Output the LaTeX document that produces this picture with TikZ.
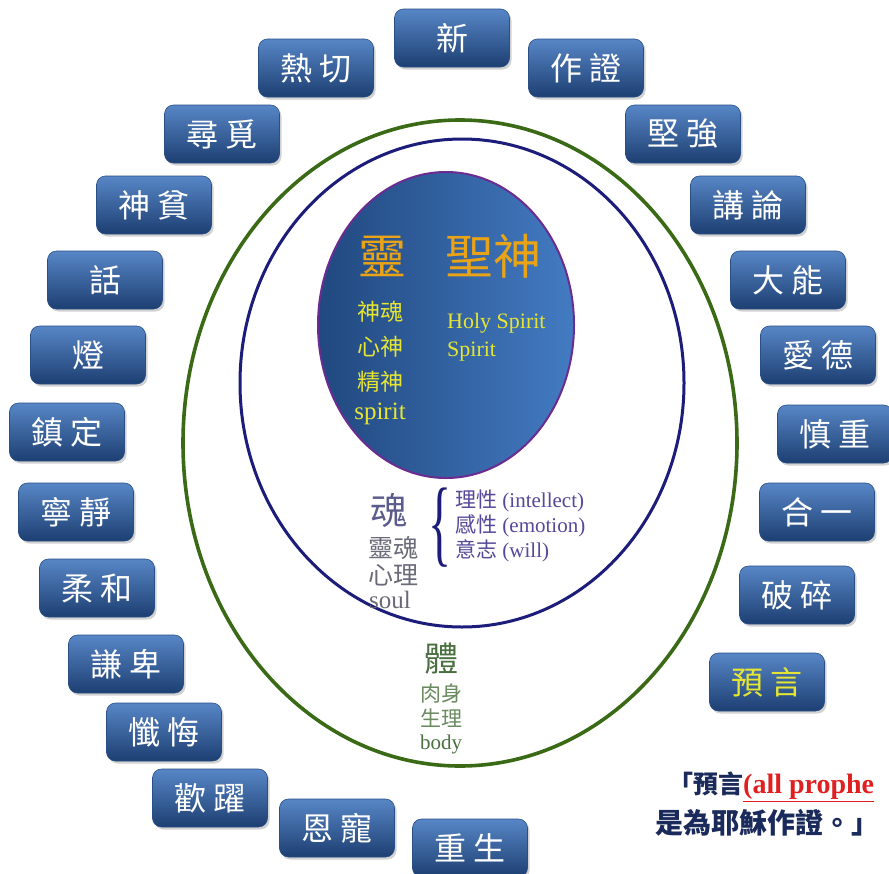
\documentclass[tikz,border=0pt]{standalone}
\usepackage{fontspec}
\setmainfont{Liberation Serif}
\newfontfamily\cjk{Noto Sans CJK TC}
\usepackage{tikz}
\usetikzlibrary{shadows}
\definecolor{BoxTop}{HTML}{5786C6}
\definecolor{BoxBot}{HTML}{1D3F72}
\definecolor{BoxEdge}{HTML}{2A4F86}
\definecolor{BodyRing}{HTML}{3A6A16}
\definecolor{SoulRing}{HTML}{1C1C7A}
\definecolor{SpiritEdge}{HTML}{6B2C91}
\definecolor{SpiritL}{HTML}{21487F}
\definecolor{SpiritR}{HTML}{437BC2}
\definecolor{Gold}{HTML}{E8A317}
\definecolor{Lemon}{HTML}{E6E632}
\definecolor{SoulInk}{HTML}{5C5C8C}
\definecolor{SoulGrey}{HTML}{6A6A78}
\definecolor{MindInk}{HTML}{55489A}
\definecolor{BodyInk}{HTML}{4A7040}
\definecolor{BodyGrey}{HTML}{6A8A60}
\definecolor{Navy}{HTML}{1A2A5A}
\definecolor{Alert}{HTML}{E02020}

\begin{document}
\begin{tikzpicture}[
          x=1pt, y=-1pt,
          word/.style={rounded corners=9pt, minimum width=115pt, minimum height=58pt, inner sep=0pt,
            top color=BoxTop, bottom color=BoxBot, draw=BoxEdge, line width=0.6pt, text=white,
            font=\cjk\fontsize{32}{34}\selectfont,
            drop shadow={shadow xshift=2pt, shadow yshift=-2.5pt, opacity=0.35}},
          gift/.style={word, text=Lemon},
          lbl/.style={inner sep=0pt, align=center},
          ring/.style={line width=3.6pt}
        ]
          \useasboundingbox (0,0) rectangle (889,873);
          \fill[white] (0,0) rectangle (889,873);

          % three rings
          \draw[ring, BodyRing] (460,443) ellipse (277 and 323);
          \draw[ring, SoulRing, line width=3pt] (462,383) ellipse (222 and 244);
          \draw[left color=SpiritL, right color=SpiritR, draw=SpiritEdge, line width=2pt] (446,325) ellipse (128 and 153);

          % spirit
          \node[lbl, text=Gold, font=\cjk\fontsize{48}{50}\selectfont] (s1) at (382,256) {靈};
          \node[lbl, text=Gold, font=\cjk\fontsize{48}{50}\selectfont] (s2) at (493,256) {聖神};
          \node[lbl, text=Lemon, font=\cjk\fontsize{23}{25}\selectfont] (s3) at (380,312) {神魂};
          \node[lbl, text=Lemon, font=\cjk\fontsize{23}{25}\selectfont] (s4) at (380,347) {心神};
          \node[lbl, text=Lemon, font=\cjk\fontsize{23}{25}\selectfont] (s5) at (380,382) {精神};
          \node[lbl, text=Lemon, font=\fontsize{25}{27}\selectfont] (s6) at (380,414) {spirit};
          \node[lbl, anchor=west, text=Lemon, font=\fontsize{22}{24}\selectfont] (s7) at (447,323) {Holy Spirit};
          \node[lbl, anchor=west, text=Lemon, font=\fontsize{22}{24}\selectfont] (s8) at (447,352) {Spirit};

          % soul
          \node[lbl, text=SoulInk, font=\cjk\fontsize{37}{39}\selectfont] (m1) at (389,510) {魂};
          \node[lbl, text=SoulGrey, font=\cjk\fontsize{25}{27}\selectfont] (m2) at (393,548) {靈魂};
          \node[lbl, text=SoulGrey, font=\cjk\fontsize{25}{27}\selectfont] (m3) at (393,575) {心理};
          \node[lbl, text=SoulGrey, font=\fontsize{25}{27}\selectfont] (m4) at (390,600) {soul};
          \node[lbl, anchor=west, text=MindInk, font=\fontsize{21}{23}\selectfont] (r1) at (455,501) {{\cjk 理性} (intellect)};
          \node[lbl, anchor=west, text=MindInk, font=\fontsize{21}{23}\selectfont] (r2) at (455,526) {{\cjk 感性} (emotion)};
          \node[lbl, anchor=west, text=MindInk, font=\fontsize{21}{23}\selectfont] (r3) at (455,551) {{\cjk 意志} (will)};
          \node[lbl, text=SoulRing] (br) at (440,528) {\scalebox{0.8}[1.6]{\fontsize{60}{60}\selectfont\{}};

          % body
          \node[lbl, text=BodyInk, font=\cjk\fontsize{34}{36}\selectfont] (p1) at (441,659) {體};
          \node[lbl, text=BodyGrey, font=\cjk\fontsize{21}{23}\selectfont] (p2) at (441,693) {肉身};
          \node[lbl, text=BodyGrey, font=\cjk\fontsize{21}{23}\selectfont] (p3) at (441,718) {生理};
          \node[lbl, text=BodyInk, font=\fontsize{21}{23}\selectfont] (p4) at (441,744) {body};

          % words around the rings
          \node[word] (w1) at (452,38) {新};
          \node[word] (w2) at (586,68) {作 證};
          \node[word] (w3) at (683,134) {堅 強};
          \node[word] (w4) at (748,205) {講 論};
          \node[word] (w5) at (788,280) {大 能};
          \node[word] (w6) at (818,355) {愛 德};
          \node[word] (w7) at (835,434) {慎 重};
          \node[word] (w8) at (817,512) {合 一};
          \node[word] (w9) at (797,595) {破 碎};
          \node[gift] (w10) at (767,682) {預 言};
          \node[word] (w11) at (316,68) {熱 切};
          \node[word] (w12) at (222,134) {尋 覓};
          \node[word] (w13) at (154,205) {神 貧};
          \node[word] (w14) at (105,280) {話};
          \node[word] (w15) at (88,355) {燈};
          \node[word] (w16) at (67,432) {鎮 定};
          \node[word] (w17) at (76,512) {寧 靜};
          \node[word] (w18) at (97,588) {柔 和};
          \node[word] (w19) at (126,664) {謙 卑};
          \node[word] (w20) at (164,732) {懺 悔};
          \node[word] (w21) at (210,798) {歡 躍};
          \node[word] (w22) at (337,828) {恩 寵};
          \node[word] (w23) at (470,848) {重 生};

          % quotation
          \node[lbl, anchor=west, text=Navy, font=\cjk\bfseries\fontsize{25}{27}\selectfont] (q1) at (668,787)
            {「預言{\rmfamily\fontsize{28}{30}\selectfont\color{Alert}\underline{(all prophe}}};
          \node[lbl, anchor=west, text=Navy, font=\cjk\bfseries\fontsize{28}{30}\selectfont] (q2) at (655,823) {是為耶穌作證。」};
        \end{tikzpicture}
\end{document}
